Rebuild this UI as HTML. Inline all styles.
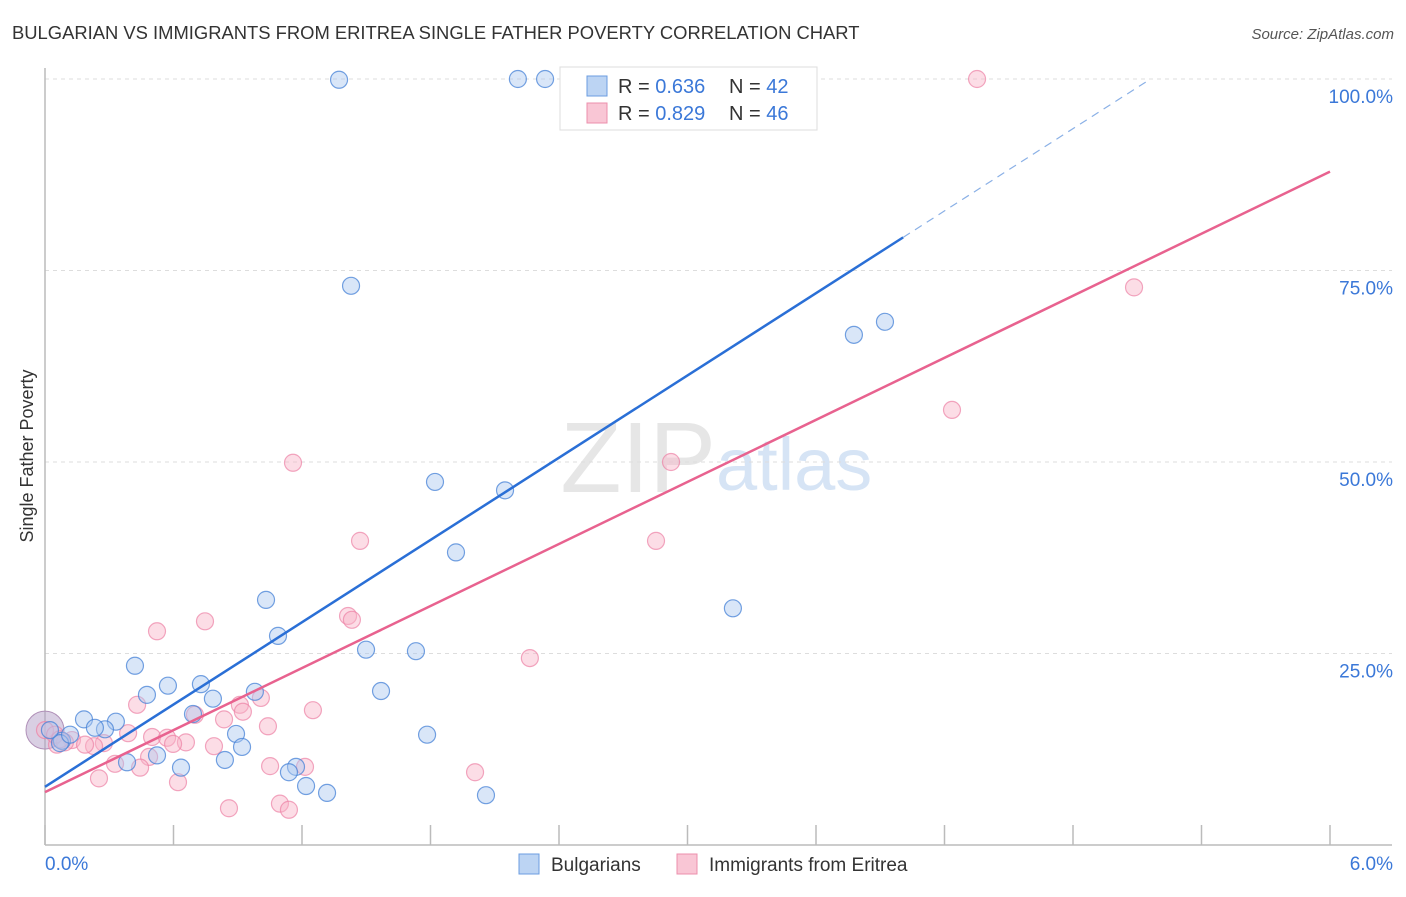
<!DOCTYPE html>
<html><head><meta charset="utf-8"><style>
body{margin:0;background:#fff;font-family:"Liberation Sans",sans-serif;}
svg text{font-family:"Liberation Sans",sans-serif;}
</style></head><body>
<svg width="1406" height="892" xmlns="http://www.w3.org/2000/svg">
<text x="12" y="39" font-size="18.4" fill="#333">BULGARIAN VS IMMIGRANTS FROM ERITREA SINGLE FATHER POVERTY CORRELATION CHART</text>
<text x="1394" y="39" font-size="15" fill="#555" text-anchor="end" font-style="italic">Source: ZipAtlas.com</text>
<text x="716" y="492" font-size="100" fill="#e6e6e6" font-family="Liberation Serif" text-anchor="end">ZIP</text>
<text x="716" y="490" font-size="74" fill="#d6e4f5">atlas</text>
<g id="grid"></g>
<g id="axes"></g>
<g id="marks"></g>
<text x="33" y="456" font-size="18" fill="#333" transform="rotate(-90 33 456)" text-anchor="middle">Single Father Poverty</text>
<text x="45" y="870" font-size="19" fill="#3b78d8">0.0%</text>
<text x="1393" y="870" font-size="19" fill="#3b78d8" text-anchor="end">6.0%</text>
<g>
<rect x="560" y="67" width="257" height="63" fill="#fff" stroke="#ddd"/>
<rect x="587" y="76" width="20" height="20" fill="#bcd4f3" stroke="#6b9de0"/>
<rect x="587" y="103" width="20" height="20" fill="#f9c6d5" stroke="#ec8fac"/>
<text x="618" y="93" font-size="20" fill="#333">R = <tspan fill="#3b78d8">0.636</tspan></text>
<text x="729" y="93" font-size="20" fill="#333">N = <tspan fill="#3b78d8">42</tspan></text>
<text x="618" y="120" font-size="20" fill="#333">R = <tspan fill="#3b78d8">0.829</tspan></text>
<text x="729" y="120" font-size="20" fill="#333">N = <tspan fill="#3b78d8">46</tspan></text>
</g>
<g>
<rect x="519" y="854" width="20" height="20" fill="#bcd4f3" stroke="#6b9de0"/>
<text x="551" y="871" font-size="19" fill="#333">Bulgarians</text>
<rect x="677" y="854" width="20" height="20" fill="#f9c6d5" stroke="#ec8fac"/>
<text x="709" y="871" font-size="19" fill="#333">Immigrants from Eritrea</text>
</g>
</svg>
<script>
const yTicks=[25,50,75,100];
const yTickLabels=["25.0%","50.0%","75.0%","100.0%"];
const xTicks=[0,0.6,1.2,1.8,2.4,3.0,3.6,4.2,4.8,5.4,6.0];
const blueX=[1.373,2.208,2.335,1.429,1.821,2.148,1.919,1.032,1.088,1.499,1.732,0.420,0.574,0.476,0.728,0.980,1.569,0.784,0.691,0.182,0.331,0.280,0.233,0.892,0.920,1.784,0.523,0.383,0.635,0.840,1.172,1.139,1.219,1.317,2.059,3.212,3.777,3.922,0.079,0.070,0.023,0.117];
const blueY=[99.9,100,100,73.0,47.4,46.3,38.2,32.0,27.3,25.5,25.3,23.4,20.8,19.6,21.0,20.0,20.1,19.1,17.1,16.4,16.1,15.1,15.3,14.5,12.8,14.4,11.7,10.8,10.1,11.1,10.2,9.5,7.7,6.8,6.5,30.9,66.6,68.3,13.6,13.3,15.0,14.4];
const pinkX=[4.352,5.085,4.235,1.158,2.923,1.471,2.853,0.523,0.747,1.415,1.433,2.264,0.430,1.008,0.910,0.924,1.251,0.700,0.836,1.041,0.388,0.500,0.275,0.229,0.570,0.658,0.598,0.789,0.486,0.327,0.444,0.252,0.621,1.051,1.214,2.008,0.859,1.097,1.139,0.056,0.126,0.093,0.187,0.0,0.047,0.070];
const pinkY=[100,72.8,56.8,49.9,50.0,39.7,39.7,27.9,29.2,29.9,29.4,24.4,18.3,19.2,18.3,17.4,17.6,17.0,16.4,15.5,14.6,14.1,13.3,12.9,14.0,13.4,13.2,12.9,11.5,10.6,10.1,8.7,8.2,10.3,10.2,9.5,4.8,5.4,4.6,13.1,13.7,13.4,13.1,15.0,14.4,13.8];
const blueTrend=[7.6,17.9]; // intercept, slope
const pinkTrend=[6.9,13.5];
const NS="http://www.w3.org/2000/svg";
const X=v=>45+v/6*1285, Y=v=>845-v/100*766;
function mk(tag,attrs,parent){const e=document.createElementNS(NS,tag);for(const k in attrs)e.setAttribute(k,attrs[k]);document.getElementById(parent).appendChild(e);return e;}
yTicks.forEach((t,i)=>{
 const l=mk('line',{x1:45,x2:1392,y1:Y(t),y2:Y(t),stroke:'#ddd','stroke-dasharray':'4,4'},'grid');
 
 
 const tx=mk('text',{x:1393,y:Y(t)+24,'font-size':19,fill:'#3b78d8','text-anchor':'end'},'grid');
 tx.textContent=yTickLabels[i];
 
 
});
let a=mk('line',{x1:45,x2:45,y1:68,y2:845,stroke:'#bbb','stroke-width':1.5},'axes');


a=mk('line',{x1:45,x2:1392,y1:845,y2:845,stroke:'#bbb','stroke-width':1.5},'axes');


xTicks.forEach(t=>{const l=mk('line',{x1:X(t),x2:X(t),y1:825,y2:845,stroke:'#bbb','stroke-width':1.5},'axes');
 
 });
const big=mk('circle',{cx:X(0),cy:Y(15),r:19,fill:'rgba(180,160,200,0.5)',stroke:'#b090b8'},'marks');


pinkX.forEach((x,i)=>{const c=mk('circle',{cx:X(x),cy:Y(pinkY[i]),r:8.5,fill:'rgba(248,180,200,0.45)',stroke:'rgba(236,130,165,0.7)','stroke-width':1.2},'marks');
 
 });
blueX.forEach((x,i)=>{const c=mk('circle',{cx:X(x),cy:Y(blueY[i]),r:8.5,fill:'rgba(170,200,240,0.45)',stroke:'rgba(70,130,215,0.75)','stroke-width':1.2},'marks');
 
 });
let t=mk('line',{x1:X(0),y1:Y(blueTrend[0]),x2:X(4.007),y2:Y(blueTrend[0]+blueTrend[1]*4.007),stroke:'#2a6fd6','stroke-width':2.5},'marks');


const xe=(100-blueTrend[0])/blueTrend[1];
t=mk('line',{x1:X(4.007),y1:Y(blueTrend[0]+blueTrend[1]*4.007),x2:X(xe),y2:Y(100),stroke:'#8ab0e6','stroke-width':1.2,'stroke-dasharray':'8,6'},'marks');


t=mk('line',{x1:X(0),y1:Y(pinkTrend[0]),x2:X(6),y2:Y(pinkTrend[0]+pinkTrend[1]*6),stroke:'#e8628f','stroke-width':2.5},'marks');


</script>
</body></html>
